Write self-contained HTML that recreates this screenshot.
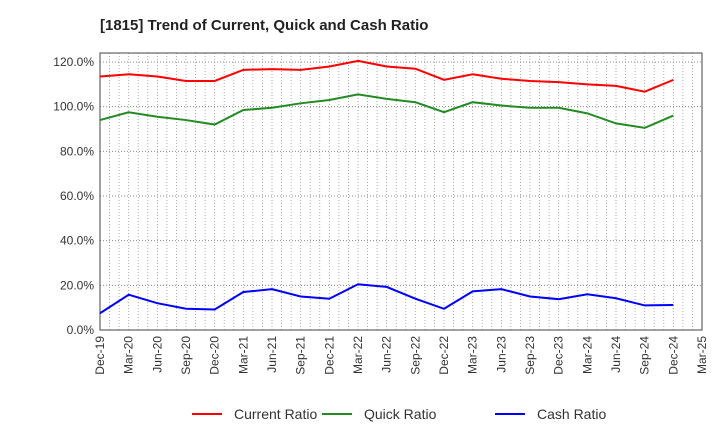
<!DOCTYPE html>
<html><head><meta charset="utf-8"><style>
body{margin:0;background:#fff;font-family:"Liberation Sans",sans-serif;}
</style></head><body>
<svg id="c" width="720" height="440" xmlns="http://www.w3.org/2000/svg">
<text x="100" y="30" font-size="15" font-weight="bold" fill="#222">[1815]  Trend of Current, Quick and Cash Ratio</text>
<g id="grid"></g><g id="axes"></g><g id="series"></g><g id="legend"></g>
</svg>
<script>
const xLabels=["Dec-19","Mar-20","Jun-20","Sep-20","Dec-20","Mar-21","Jun-21","Sep-21","Dec-21","Mar-22","Jun-22","Sep-22","Dec-22","Mar-23","Jun-23","Sep-23","Dec-23","Mar-24","Jun-24","Sep-24","Dec-24","Mar-25"];
const yTicks=[0,20,40,60,80,100,120];
const currentRatio=[113.5,114.5,113.5,111.5,111.5,116.5,116.8,116.5,118,120.5,118,117,112,114.5,112.5,111.5,111,110,109.3,106.7,112];
const quickRatio=[94,97.5,95.5,94,92,98.5,99.5,101.5,103,105.5,103.5,102,97.5,102,100.5,99.5,99.5,97,92.5,90.5,96];
const cashRatio=[7.5,15.8,12,9.5,9.2,17,18.3,15,14,20.5,19.3,14,9.5,17.3,18.3,15,13.8,16,14.2,11,11.2];
const NS="http://www.w3.org/2000/svg";
const L=100,R=702,T=53,B=330;
const xs=i=>L+i*(R-L)/(xLabels.length-1);
const ys=v=>B-v*(B-62)/120;
function mk(tag,attrs,parent){const e=document.createElementNS(NS,tag);for(const k in attrs)e.setAttribute(k,attrs[k]);document.getElementById(parent).appendChild(e);return e;}
for(let m=1;m<(xLabels.length-1)*3;m++){const x=L+m*(R-L)/((xLabels.length-1)*3);
const e=mk('line',{x1:x,x2:x,y1:T,y2:B,stroke:'#999','stroke-dasharray':'1,2','stroke-width':0.8},'grid');

}
yTicks.forEach(v=>{const y=ys(v);
const g=mk('line',{x1:L,x2:R,y1:y,y2:y,stroke:'#888','stroke-dasharray':'1,2','stroke-width':1},'grid');


const t=mk('text',{x:L-6,y:y+4,'text-anchor':'end','font-size':12,fill:'#333'},'axes');t.textContent=v.toFixed(1)+'%';

});
xLabels.forEach((lab,i)=>{const x=xs(i);
const t=mk('text',{x:x+4,y:B+6,'text-anchor':'end','font-size':12,fill:'#333',transform:`rotate(-90 ${x+4} ${B+6})`},'axes');t.textContent=lab;

});
const fr=mk('rect',{x:L,y:T,width:R-L,height:B-T,fill:'none',stroke:'#444','stroke-width':1},'axes');


const series=[["current-ratio-line",currentRatio,"#ff0000","Current Ratio"],["quick-ratio-line",quickRatio,"#228b22","Quick Ratio"],["cash-ratio-line",cashRatio,"#0000ff","Cash Ratio"]];
series.forEach(([n,d,c])=>{const p=mk('polyline',{points:d.map((v,i)=>xs(i)+','+ys(v)).join(' '),fill:'none',stroke:c,'stroke-width':2},'series');

});
const lx=[192,322,495];
series.forEach(([n,d,c,lab],k)=>{const x=lx[k];
const l=mk('line',{x1:x,x2:x+30,y1:414,y2:414,stroke:c,'stroke-width':2},'legend');


const t=mk('text',{x:x+42,y:419,'font-size':14,fill:'#333'},'legend');t.textContent=lab;

});
</script>
</body></html>
